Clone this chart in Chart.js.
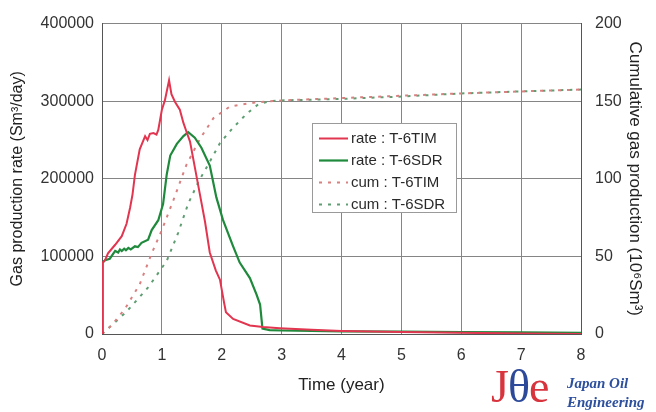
<!DOCTYPE html>
<html>
<head>
<meta charset="utf-8">
<title>Gas production</title>
<script src="https://cdn.jsdelivr.net/npm/chart.js@4.4.0/dist/chart.umd.min.js"></script>
<style>
  html, body { margin: 0; padding: 0; background: #fff; }
  #wrap { position: relative; width: 656px; height: 412px; }
  #logo { position: absolute; left: 491px; top: 364px; width: 165px; height: 48px; }
  #logo .mark { position: absolute; left: 0; top: 0; font: 46px "Liberation Serif", serif; letter-spacing: -1px; transform: scaleX(1.0); transform-origin: left top; line-height: 46px; }
  #logo .name { position: absolute; left: 76px; top: 10px; font: italic bold 15px "Liberation Serif", serif; color: #2c4f9e; line-height: 19px; }
</style>
</head>
<body>
<div id="wrap">
  <canvas id="chart" width="656" height="412"></canvas>
  <div id="logo">
    <div class="mark"><span style="color:#d8343e">J</span><span style="color:#2d4a9a">θ</span><span style="color:#d8343e">e</span></div>
    <div class="name">Japan Oil<br>Engineering</div>
  </div>
</div>
<script>
// time (year) and rate (Sm3/day) for T-6TIM
const timeRateTIM = [0, 0.01, 0.05, 0.10, 0.22, 0.33, 0.41, 0.47, 0.51, 0.55, 0.63, 0.72, 0.76, 0.80, 0.86, 0.91, 0.94,
    1.00, 1.05, 1.12, 1.16, 1.22, 1.30, 1.36, 1.41, 1.47, 1.55, 1.64, 1.72, 1.80, 1.90, 1.97, 2.04, 2.07, 2.19,
    2.47, 2.69, 2.97, 3.5, 4.0, 5.0, 6.0, 7.0, 8.0];
const rateTIM = [0, 92000, 95000, 104000, 115000, 126000, 142000, 163000, 180000, 205000, 238000, 255000, 250000, 258000, 259000, 257000, 263000,
    289000, 301000, 327000, 309000, 299000, 289000, 272000, 261000, 248000, 215000, 178000, 145000, 105000, 82000, 70000, 40000, 28000, 19500,
    11000, 9000, 7500, 5500, 4000, 2500, 1500, 800, 0];

// time (year) and rate (Sm3/day) for T-6SDR
const timeRateSDR = [0, 0.01, 0.05, 0.13, 0.22, 0.27, 0.30, 0.33, 0.37, 0.40, 0.44, 0.48, 0.55, 0.60, 0.66, 0.77, 0.83, 0.94,
    1.02, 1.08, 1.14, 1.25, 1.36, 1.44, 1.55, 1.66, 1.80, 1.91, 2.02, 2.19, 2.30, 2.47, 2.58, 2.64, 2.68,
    2.80, 3.0, 3.5, 4.0, 5.0, 6.0, 7.0, 8.0];
const rateSDR = [0, 92000, 95000, 97000, 107000, 105000, 109000, 107000, 110000, 108000, 111000, 109000, 113000, 112000, 117500, 121500, 134000, 146600,
    167500, 205000, 230000, 245000, 255000, 260000, 253000, 240000, 217000, 176000, 147000, 113000, 92000, 72000, 51000, 38000, 7000,
    5000, 4500, 4000, 3500, 3000, 2500, 2000, 1500];

// time (year) and cumulative production (10^6 Sm3)
const timeCumTIM = [0, 0.16, 0.38, 0.63, 0.83, 1.0, 1.19, 1.41, 1.64, 1.86, 2.14, 2.53, 3.0, 4.0, 5.0, 6.0, 7.0, 8.0];
const cumTIM = [0, 5.6, 16, 32, 52, 67, 86, 109, 126, 139, 146.7, 149, 150.5, 152, 153.5, 155, 156.3, 157.5];
const timeCumSDR = [0, 0.16, 0.40, 0.77, 1.08, 1.27, 1.44, 1.61, 1.80, 1.97, 2.19, 2.42, 2.61, 2.80, 3.0, 4.0, 5.0, 6.0, 7.0, 8.0];
const cumSDR = [0, 5.6, 14, 30, 47, 65, 84, 98, 111, 123, 133, 142, 148, 150, 150.5, 151.5, 153, 155, 156.3, 157.5];

const seriesLabels = ['rate : T-6TIM', 'rate : T-6SDR', 'cum : T-6TIM', 'cum : T-6SDR'];

const toPoints = (xs, ys) => xs.map((x, i) => ({ x: x, y: ys[i] }));

const FONT = '"Liberation Sans", Arial, sans-serif';

// legend box drawn inside the plot
const boxLegend = {
    id: 'boxLegend',
    afterDatasetsDraw(chart) {
        const ctx = chart.ctx;
        const x = 312, y = 123, w = 144, h = 89;
        ctx.save();
        ctx.fillStyle = '#fff';
        ctx.fillRect(x, y, w, h);
        ctx.strokeStyle = '#9a9a9a';
        ctx.lineWidth = 1;
        ctx.strokeRect(x + 0.5, y + 0.5, w, h);
        ctx.font = '15px ' + FONT;
        ctx.textBaseline = 'middle';
        chart.data.datasets.forEach((ds, i) => {
            const cy = y + 15.5 + i * 22;
            ctx.strokeStyle = ds.borderColor;
            ctx.lineWidth = ds.borderWidth;
            ctx.setLineDash(ds.borderDash || []);
            ctx.lineCap = ds.borderCapStyle || 'butt';
            ctx.beginPath();
            ctx.moveTo(x + 7, cy);
            ctx.lineTo(x + 36, cy);
            ctx.stroke();
            ctx.setLineDash([]);
            ctx.fillStyle = '#2a2a2a';
            ctx.fillText(ds.label, x + 39, cy);
        });
        ctx.restore();
    }
};

new Chart(document.getElementById('chart'), {
    type: 'line',
    data: {
        datasets: [
            { label: seriesLabels[0], data: toPoints(timeRateTIM, rateTIM), yAxisID: 'y', borderColor: '#e2354f', borderWidth: 2 },
            { label: seriesLabels[1], data: toPoints(timeRateSDR, rateSDR), yAxisID: 'y', borderColor: '#1f8a3c', borderWidth: 2.2 },
            { label: seriesLabels[2], data: toPoints(timeCumTIM, cumTIM), yAxisID: 'y2', borderColor: '#d98080', borderWidth: 2, borderDash: [3, 6] },
            { label: seriesLabels[3], data: toPoints(timeCumSDR, cumSDR), yAxisID: 'y2', borderColor: '#5f9e72', borderWidth: 2, borderDash: [3, 6] }
        ]
    },
    options: {
        responsive: false,
        animation: false,
        devicePixelRatio: 1,
        layout: { padding: { top: 14, right: 0, bottom: 0, left: 0 } },
        elements: { point: { radius: 0 }, line: { tension: 0, fill: false } },
        plugins: { legend: { display: false }, tooltip: { enabled: false } },
        scales: {
            x: {
                type: 'linear',
                min: 0,
                max: 8,
                ticks: { stepSize: 1, padding: 12, color: '#333', font: { family: FONT, size: 16 } },
                grid: { color: '#858585', drawTicks: false },
                border: { color: '#555' },
                title: { display: true, text: 'Time (year)', color: '#222', font: { family: FONT, size: 17 }, padding: { top: 0, bottom: 16 } },
                afterFit: (scale) => { scale.height = 78; }
            },
            y: {
                position: 'left',
                min: 0,
                max: 400000,
                ticks: { stepSize: 100000, padding: 8, color: '#333', font: { family: FONT, size: 16 }, callback: (v) => String(v) },
                grid: { color: '#858585', drawTicks: false },
                border: { color: '#555' },
                title: { display: true, text: 'Gas production rate (Sm³/day)', color: '#222', font: { family: FONT, size: 16 }, padding: { top: 8, bottom: 0 } },
                afterFit: (scale) => { scale.width = 102; }
            },
            y2: {
                position: 'right',
                min: 0,
                max: 200,
                ticks: { stepSize: 50, padding: 14, color: '#333', font: { family: FONT, size: 16 } },
                grid: { display: false, drawTicks: false },
                border: { color: '#555' },
                title: { display: true, text: 'Cumulative gas production (10⁶Sm³)', color: '#222', font: { family: FONT, size: 17 }, padding: { top: 11, bottom: 0 } },
                afterFit: (scale) => { scale.width = 75; }
            }
        }
    },
    plugins: [boxLegend]
});
</script>
</body>
</html>
